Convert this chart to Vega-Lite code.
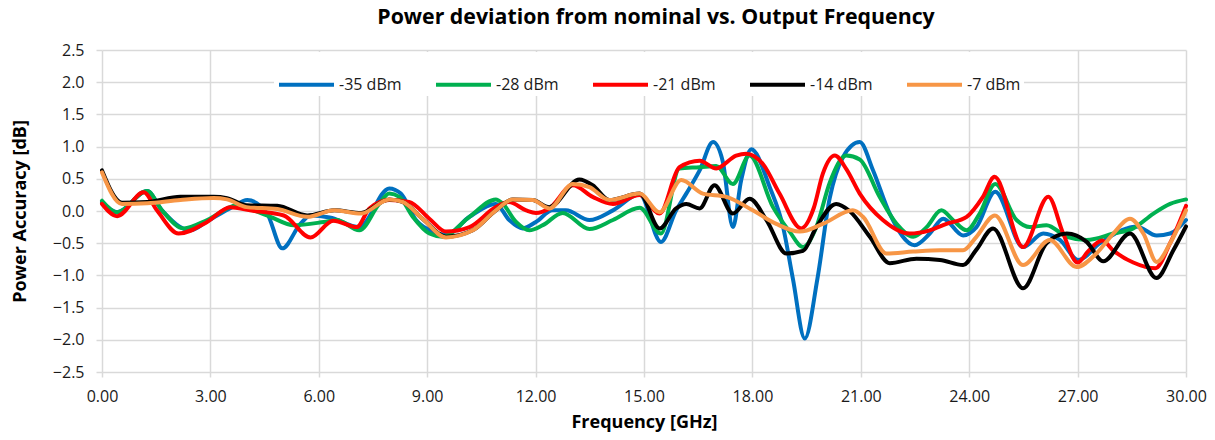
{
  "$schema": "https://vega.github.io/schema/vega-lite/v6.json",
  "width": 1084,
  "height": 322,
  "autosize": {"type": "none"},
  "padding": {"left": 102, "top": 50, "right": 29, "bottom": 68},
  "background": "white",
  "title": {"text": "Power deviation from nominal vs. Output Frequency", "font": "Open Sans", "fontSize": 21.3, "fontWeight": "bold", "color": "#000000", "anchor": "middle", "offset": 14, "dx": 12},
  "config": {"view": {"stroke": null}},
  "datasets": {
    "d": [
      {"s":"-35 dBm","f":0,"v":0.14},{"s":"-35 dBm","f":0.42,"v":-0.02},{"s":"-35 dBm","f":1.25,"v":0.31},{"s":"-35 dBm","f":1.66,"v":0.01},{"s":"-35 dBm","f":2.45,"v":-0.3},{"s":"-35 dBm","f":2.91,"v":-0.16},{"s":"-35 dBm","f":3.6,"v":0.06},{"s":"-35 dBm","f":4.02,"v":0.17},{"s":"-35 dBm","f":4.57,"v":-0.04},{"s":"-35 dBm","f":4.99,"v":-0.58},{"s":"-35 dBm","f":5.49,"v":-0.2},{"s":"-35 dBm","f":5.77,"v":-0.07},{"s":"-35 dBm","f":6.3,"v":-0.1},{"s":"-35 dBm","f":7.12,"v":-0.25},{"s":"-35 dBm","f":7.95,"v":0.35},{"s":"-35 dBm","f":8.27,"v":0.27},{"s":"-35 dBm","f":8.69,"v":-0.14},{"s":"-35 dBm","f":9.15,"v":-0.32},{"s":"-35 dBm","f":9.52,"v":-0.37},{"s":"-35 dBm","f":10.17,"v":-0.09},{"s":"-35 dBm","f":10.9,"v":0.11},{"s":"-35 dBm","f":11.27,"v":-0.14},{"s":"-35 dBm","f":11.64,"v":-0.27},{"s":"-35 dBm","f":12.01,"v":-0.17},{"s":"-35 dBm","f":12.47,"v":0.01},{"s":"-35 dBm","f":12.84,"v":0.01},{"s":"-35 dBm","f":13.49,"v":-0.14},{"s":"-35 dBm","f":14.14,"v":0.01},{"s":"-35 dBm","f":14.88,"v":0.26},{"s":"-35 dBm","f":15.47,"v":-0.48},{"s":"-35 dBm","f":15.89,"v":0.01},{"s":"-35 dBm","f":16.17,"v":0.27},{"s":"-35 dBm","f":16.54,"v":0.63},{"s":"-35 dBm","f":16.91,"v":1.07},{"s":"-35 dBm","f":17.18,"v":0.77},{"s":"-35 dBm","f":17.46,"v":-0.25},{"s":"-35 dBm","f":17.69,"v":0.48},{"s":"-35 dBm","f":17.97,"v":0.96},{"s":"-35 dBm","f":18.48,"v":0.37},{"s":"-35 dBm","f":18.85,"v":-0.25},{"s":"-35 dBm","f":19.12,"v":-1.05},{"s":"-35 dBm","f":19.45,"v":-1.98},{"s":"-35 dBm","f":19.8,"v":-1.05},{"s":"-35 dBm","f":20.14,"v":0.2},{"s":"-35 dBm","f":20.51,"v":0.84},{"s":"-35 dBm","f":20.97,"v":1.07},{"s":"-35 dBm","f":21.34,"v":0.63},{"s":"-35 dBm","f":21.8,"v":-0.04},{"s":"-35 dBm","f":22.49,"v":-0.53},{"s":"-35 dBm","f":22.91,"v":-0.35},{"s":"-35 dBm","f":23.28,"v":-0.12},{"s":"-35 dBm","f":23.83,"v":-0.38},{"s":"-35 dBm","f":24.2,"v":-0.25},{"s":"-35 dBm","f":24.72,"v":0.3},{"s":"-35 dBm","f":25.49,"v":-0.56},{"s":"-35 dBm","f":26.05,"v":-0.35},{"s":"-35 dBm","f":26.51,"v":-0.45},{"s":"-35 dBm","f":27.02,"v":-0.76},{"s":"-35 dBm","f":27.62,"v":-0.5},{"s":"-35 dBm","f":28.36,"v":-0.27},{"s":"-35 dBm","f":28.63,"v":-0.24},{"s":"-35 dBm","f":29.19,"v":-0.38},{"s":"-35 dBm","f":29.56,"v":-0.35},{"s":"-35 dBm","f":30,"v":-0.14},

      {"s":"-28 dBm","f":0,"v":0.16},{"s":"-28 dBm","f":0.42,"v":-0.02},{"s":"-28 dBm","f":1.25,"v":0.31},{"s":"-28 dBm","f":1.66,"v":0.01},{"s":"-28 dBm","f":2.26,"v":-0.27},{"s":"-28 dBm","f":2.91,"v":-0.14},{"s":"-28 dBm","f":3.74,"v":0.09},{"s":"-28 dBm","f":4.2,"v":0.01},{"s":"-28 dBm","f":4.66,"v":-0.09},{"s":"-28 dBm","f":5.31,"v":-0.22},{"s":"-28 dBm","f":6.14,"v":-0.17},{"s":"-28 dBm","f":6.5,"v":-0.14},{"s":"-28 dBm","f":7.12,"v":-0.3},{"s":"-28 dBm","f":7.67,"v":0.11},{"s":"-28 dBm","f":7.95,"v":0.27},{"s":"-28 dBm","f":8.23,"v":0.22},{"s":"-28 dBm","f":8.6,"v":-0.09},{"s":"-28 dBm","f":9.06,"v":-0.35},{"s":"-28 dBm","f":9.43,"v":-0.4},{"s":"-28 dBm","f":10.17,"v":-0.09},{"s":"-28 dBm","f":10.9,"v":0.18},{"s":"-28 dBm","f":11.08,"v":0.12},{"s":"-28 dBm","f":11.46,"v":-0.17},{"s":"-28 dBm","f":11.83,"v":-0.3},{"s":"-28 dBm","f":12.2,"v":-0.22},{"s":"-28 dBm","f":12.75,"v":-0.03},{"s":"-28 dBm","f":13.49,"v":-0.28},{"s":"-28 dBm","f":14.14,"v":-0.14},{"s":"-28 dBm","f":14.88,"v":0.05},{"s":"-28 dBm","f":15.47,"v":-0.35},{"s":"-28 dBm","f":15.98,"v":0.66},{"s":"-28 dBm","f":16.54,"v":0.68},{"s":"-28 dBm","f":17,"v":0.7},{"s":"-28 dBm","f":17.46,"v":0.42},{"s":"-28 dBm","f":17.92,"v":0.86},{"s":"-28 dBm","f":18.57,"v":0.06},{"s":"-28 dBm","f":19.03,"v":-0.32},{"s":"-28 dBm","f":19.4,"v":-0.56},{"s":"-28 dBm","f":19.77,"v":-0.25},{"s":"-28 dBm","f":20.14,"v":0.44},{"s":"-28 dBm","f":20.6,"v":0.86},{"s":"-28 dBm","f":20.97,"v":0.8},{"s":"-28 dBm","f":21.52,"v":0.22},{"s":"-28 dBm","f":21.99,"v":-0.2},{"s":"-28 dBm","f":22.45,"v":-0.4},{"s":"-28 dBm","f":22.82,"v":-0.25},{"s":"-28 dBm","f":23.23,"v":0.01},{"s":"-28 dBm","f":23.55,"v":-0.14},{"s":"-28 dBm","f":23.93,"v":-0.3},{"s":"-28 dBm","f":24.29,"v":-0.04},{"s":"-28 dBm","f":24.72,"v":0.42},{"s":"-28 dBm","f":25.31,"v":-0.14},{"s":"-28 dBm","f":25.68,"v":-0.25},{"s":"-28 dBm","f":26.14,"v":-0.22},{"s":"-28 dBm","f":26.7,"v":-0.4},{"s":"-28 dBm","f":27.25,"v":-0.45},{"s":"-28 dBm","f":27.99,"v":-0.35},{"s":"-28 dBm","f":28.54,"v":-0.27},{"s":"-28 dBm","f":29.1,"v":-0.04},{"s":"-28 dBm","f":29.56,"v":0.11},{"s":"-28 dBm","f":30,"v":0.18},

      {"s":"-21 dBm","f":0,"v":0.11},{"s":"-21 dBm","f":0.42,"v":-0.08},{"s":"-21 dBm","f":1.15,"v":0.29},{"s":"-21 dBm","f":1.52,"v":0.01},{"s":"-21 dBm","f":2.12,"v":-0.35},{"s":"-21 dBm","f":2.91,"v":-0.17},{"s":"-21 dBm","f":3.55,"v":0.06},{"s":"-21 dBm","f":4.1,"v":0.01},{"s":"-21 dBm","f":5.03,"v":-0.07},{"s":"-21 dBm","f":5.77,"v":-0.41},{"s":"-21 dBm","f":6.4,"v":-0.15},{"s":"-21 dBm","f":7.05,"v":-0.25},{"s":"-21 dBm","f":7.4,"v":0.04},{"s":"-21 dBm","f":7.95,"v":0.17},{"s":"-21 dBm","f":8.5,"v":0.14},{"s":"-21 dBm","f":9.06,"v":-0.12},{"s":"-21 dBm","f":9.52,"v":-0.32},{"s":"-21 dBm","f":10.17,"v":-0.25},{"s":"-21 dBm","f":10.9,"v":0.06},{"s":"-21 dBm","f":11.26,"v":0.14},{"s":"-21 dBm","f":11.74,"v":0.01},{"s":"-21 dBm","f":12.01,"v":-0.03},{"s":"-21 dBm","f":12.38,"v":0.04},{"s":"-21 dBm","f":13.03,"v":0.4},{"s":"-21 dBm","f":13.58,"v":0.22},{"s":"-21 dBm","f":14.14,"v":0.11},{"s":"-21 dBm","f":14.88,"v":0.25},{"s":"-21 dBm","f":15.43,"v":-0.04},{"s":"-21 dBm","f":15.98,"v":0.68},{"s":"-21 dBm","f":16.54,"v":0.78},{"s":"-21 dBm","f":17,"v":0.66},{"s":"-21 dBm","f":17.55,"v":0.86},{"s":"-21 dBm","f":17.83,"v":0.89},{"s":"-21 dBm","f":18.29,"v":0.73},{"s":"-21 dBm","f":18.75,"v":0.27},{"s":"-21 dBm","f":19.35,"v":-0.27},{"s":"-21 dBm","f":19.7,"v":0.05},{"s":"-21 dBm","f":19.95,"v":0.58},{"s":"-21 dBm","f":20.28,"v":0.86},{"s":"-21 dBm","f":20.6,"v":0.65},{"s":"-21 dBm","f":20.97,"v":0.27},{"s":"-21 dBm","f":21.61,"v":-0.14},{"s":"-21 dBm","f":22.35,"v":-0.35},{"s":"-21 dBm","f":22.91,"v":-0.3},{"s":"-21 dBm","f":23.37,"v":-0.2},{"s":"-21 dBm","f":23.93,"v":-0.09},{"s":"-21 dBm","f":24.38,"v":0.22},{"s":"-21 dBm","f":24.7,"v":0.53},{"s":"-21 dBm","f":25.49,"v":-0.56},{"s":"-21 dBm","f":26.19,"v":0.22},{"s":"-21 dBm","f":26.6,"v":-0.35},{"s":"-21 dBm","f":27.0,"v":-0.8},{"s":"-21 dBm","f":27.3,"v":-0.62},{"s":"-21 dBm","f":27.68,"v":-0.46},{"s":"-21 dBm","f":28.0,"v":-0.62},{"s":"-21 dBm","f":28.54,"v":-0.8},{"s":"-21 dBm","f":29.15,"v":-0.89},{"s":"-21 dBm","f":29.56,"v":-0.5},{"s":"-21 dBm","f":30,"v":0.08},

      {"s":"-14 dBm","f":0,"v":0.63},{"s":"-14 dBm","f":0.55,"v":0.13},{"s":"-14 dBm","f":1.25,"v":0.14},{"s":"-14 dBm","f":2.17,"v":0.22},{"s":"-14 dBm","f":3.09,"v":0.22},{"s":"-14 dBm","f":3.46,"v":0.2},{"s":"-14 dBm","f":4,"v":0.09},{"s":"-14 dBm","f":4.85,"v":0.08},{"s":"-14 dBm","f":5.68,"v":-0.07},{"s":"-14 dBm","f":6.43,"v":0.01},{"s":"-14 dBm","f":7.17,"v":-0.03},{"s":"-14 dBm","f":7.95,"v":0.18},{"s":"-14 dBm","f":8.32,"v":0.14},{"s":"-14 dBm","f":8.87,"v":-0.12},{"s":"-14 dBm","f":9.52,"v":-0.4},{"s":"-14 dBm","f":10.26,"v":-0.3},{"s":"-14 dBm","f":10.9,"v":0.01},{"s":"-14 dBm","f":11.37,"v":0.18},{"s":"-14 dBm","f":11.92,"v":0.17},{"s":"-14 dBm","f":12.38,"v":0.06},{"s":"-14 dBm","f":13.21,"v":0.49},{"s":"-14 dBm","f":13.58,"v":0.4},{"s":"-14 dBm","f":14.04,"v":0.17},{"s":"-14 dBm","f":14.88,"v":0.27},{"s":"-14 dBm","f":15.43,"v":-0.27},{"s":"-14 dBm","f":15.89,"v":0.04},{"s":"-14 dBm","f":16.17,"v":0.11},{"s":"-14 dBm","f":16.54,"v":0.04},{"s":"-14 dBm","f":16.95,"v":0.4},{"s":"-14 dBm","f":17.46,"v":-0.04},{"s":"-14 dBm","f":17.92,"v":0.19},{"s":"-14 dBm","f":18.39,"v":-0.14},{"s":"-14 dBm","f":18.94,"v":-0.66},{"s":"-14 dBm","f":19.4,"v":-0.62},{"s":"-14 dBm","f":19.77,"v":-0.25},{"s":"-14 dBm","f":20.32,"v":0.11},{"s":"-14 dBm","f":20.69,"v":0.0},{"s":"-14 dBm","f":21.25,"v":-0.4},{"s":"-14 dBm","f":21.8,"v":-0.81},{"s":"-14 dBm","f":22.54,"v":-0.74},{"s":"-14 dBm","f":23.19,"v":-0.76},{"s":"-14 dBm","f":23.83,"v":-0.84},{"s":"-14 dBm","f":24.2,"v":-0.6},{"s":"-14 dBm","f":24.66,"v":-0.27},{"s":"-14 dBm","f":25.49,"v":-1.2},{"s":"-14 dBm","f":26.14,"v":-0.5},{"s":"-14 dBm","f":26.7,"v":-0.35},{"s":"-14 dBm","f":27.25,"v":-0.48},{"s":"-14 dBm","f":27.71,"v":-0.78},{"s":"-14 dBm","f":28.45,"v":-0.35},{"s":"-14 dBm","f":29.18,"v":-1.04},{"s":"-14 dBm","f":29.65,"v":-0.61},{"s":"-14 dBm","f":30,"v":-0.24},

      {"s":"-7 dBm","f":0,"v":0.6},{"s":"-7 dBm","f":0.55,"v":0.11},{"s":"-7 dBm","f":1.25,"v":0.12},{"s":"-7 dBm","f":2.17,"v":0.17},{"s":"-7 dBm","f":3.09,"v":0.2},{"s":"-7 dBm","f":3.46,"v":0.18},{"s":"-7 dBm","f":4,"v":0.06},{"s":"-7 dBm","f":4.85,"v":0.03},{"s":"-7 dBm","f":5.68,"v":-0.09},{"s":"-7 dBm","f":6.43,"v":0.01},{"s":"-7 dBm","f":7.17,"v":-0.04},{"s":"-7 dBm","f":7.95,"v":0.18},{"s":"-7 dBm","f":8.32,"v":0.14},{"s":"-7 dBm","f":8.87,"v":-0.12},{"s":"-7 dBm","f":9.52,"v":-0.41},{"s":"-7 dBm","f":10.26,"v":-0.3},{"s":"-7 dBm","f":10.9,"v":0.01},{"s":"-7 dBm","f":11.37,"v":0.18},{"s":"-7 dBm","f":11.92,"v":0.17},{"s":"-7 dBm","f":12.38,"v":0.04},{"s":"-7 dBm","f":13.03,"v":0.42},{"s":"-7 dBm","f":13.49,"v":0.37},{"s":"-7 dBm","f":14.04,"v":0.17},{"s":"-7 dBm","f":14.88,"v":0.27},{"s":"-7 dBm","f":15.43,"v":-0.02},{"s":"-7 dBm","f":16.03,"v":0.48},{"s":"-7 dBm","f":16.63,"v":0.27},{"s":"-7 dBm","f":17.28,"v":0.22},{"s":"-7 dBm","f":18.01,"v":0.01},{"s":"-7 dBm","f":18.66,"v":-0.2},{"s":"-7 dBm","f":19.31,"v":-0.32},{"s":"-7 dBm","f":19.95,"v":-0.2},{"s":"-7 dBm","f":20.78,"v":0.01},{"s":"-7 dBm","f":21.06,"v":-0.09},{"s":"-7 dBm","f":21.71,"v":-0.66},{"s":"-7 dBm","f":22.45,"v":-0.63},{"s":"-7 dBm","f":23.19,"v":-0.61},{"s":"-7 dBm","f":23.83,"v":-0.61},{"s":"-7 dBm","f":24.2,"v":-0.4},{"s":"-7 dBm","f":24.71,"v":-0.07},{"s":"-7 dBm","f":25.49,"v":-0.84},{"s":"-7 dBm","f":26.23,"v":-0.45},{"s":"-7 dBm","f":26.97,"v":-0.87},{"s":"-7 dBm","f":27.52,"v":-0.66},{"s":"-7 dBm","f":27.99,"v":-0.35},{"s":"-7 dBm","f":28.45,"v":-0.12},{"s":"-7 dBm","f":28.82,"v":-0.35},{"s":"-7 dBm","f":29.19,"v":-0.79},{"s":"-7 dBm","f":29.56,"v":-0.5},{"s":"-7 dBm","f":30,"v":0.01}
    ]
  },
  "data": {"name": "d"},
  "mark": {"type": "line", "interpolate": "monotone", "strokeWidth": 4, "strokeCap": "round", "strokeJoin": "round"},
  "encoding": {
    "x": {
      "field": "f", "type": "quantitative",
      "scale": {"domain": [0, 30], "nice": false, "zero": false},
      "axis": {
        "values": [0, 3, 6, 9, 12, 15, 18, 21, 24, 27, 30], "format": ".2f", "labelFlush": false,
        "title": "Frequency [GHz]", "titleFont": "Open Sans", "titleFontSize": 18, "titleFontWeight": "bold", "titleColor": "#000000",
        "titleY": 50, "titleBaseline": "middle",
        "labelFont": "Open Sans", "labelFontSize": 16, "labelColor": "#1a1a1a", "labelPadding": 11,
        "grid": true, "gridColor": "#d9d9d9", "gridWidth": 1.5,
        "domain": false, "ticks": true, "tickColor": "#d9d9d9", "tickWidth": 1.5, "tickSize": 5
      }
    },
    "y": {
      "field": "v", "type": "quantitative",
      "scale": {"domain": [-2.5, 2.5], "nice": false, "zero": false},
      "axis": {
        "values": [-2.5, -2, -1.5, -1, -0.5, 0, 0.5, 1, 1.5, 2, 2.5], "format": ".1f", "labelFlush": false,
        "title": "Power Accuracy [dB]", "titleFont": "Open Sans", "titleFontSize": 18, "titleFontWeight": "bold", "titleColor": "#000000",
        "titleX": -82, "titleY": 161, "titleBaseline": "middle", "titleAngle": -90,
        "labelFont": "Open Sans", "labelFontSize": 16, "labelColor": "#1a1a1a", "labelPadding": 12,
        "grid": true, "gridColor": "#d9d9d9", "gridWidth": 1.5,
        "domain": false, "ticks": true, "tickColor": "#d9d9d9", "tickWidth": 1.5, "tickSize": 6
      }
    },
    "color": {
      "field": "s", "type": "nominal",
      "scale": {"domain": ["-35 dBm", "-28 dBm", "-21 dBm", "-14 dBm", "-7 dBm"], "range": ["#0070C0", "#00B050", "#FF0000", "#000000", "#F79646"]},
      "legend": {
        "title": null, "orient": "none", "direction": "horizontal", "legendX": 172, "legendY": 2,
        "fillColor": "white", "padding": 3,
        "symbolType": "stroke", "symbolSize": 3025, "symbolStrokeWidth": 4,
        "labelFont": "Open Sans", "labelFontSize": 16, "labelColor": "#1a1a1a", "labelOffset": 3,
        "columnPadding": 26
      }
    }
  }
}
